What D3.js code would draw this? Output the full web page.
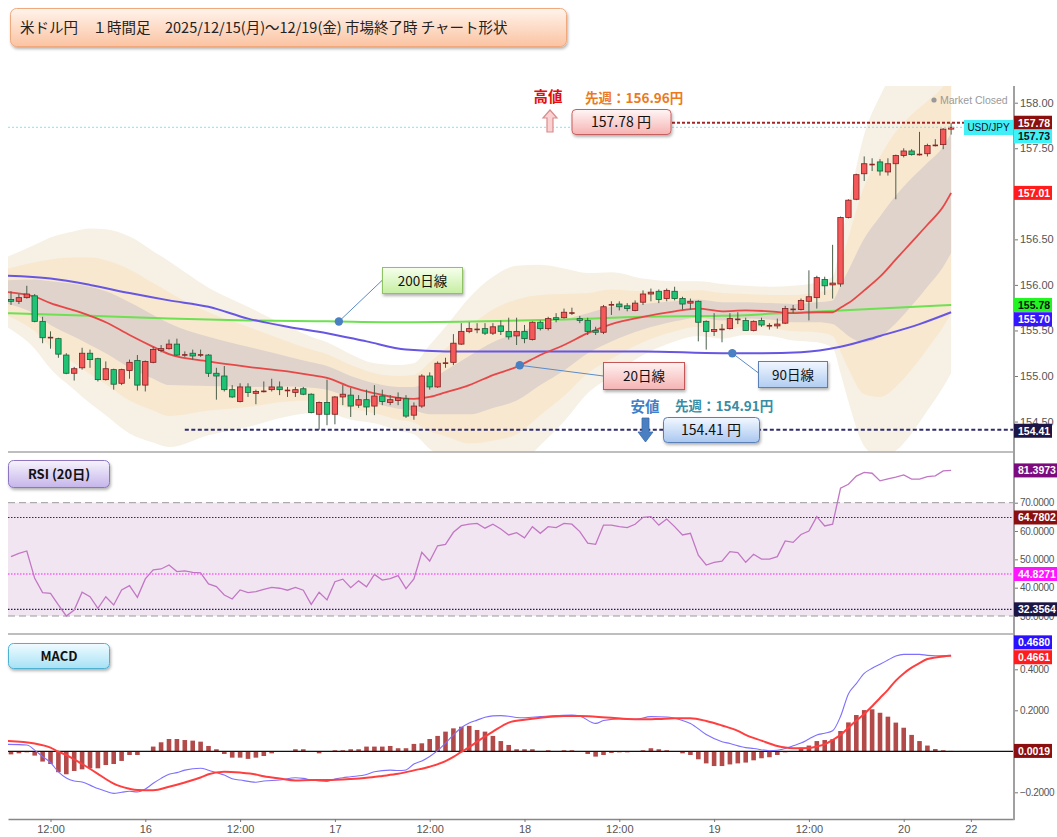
<!DOCTYPE html>
<html lang="ja">
<head>
<meta charset="UTF-8">
<title>米ドル円 1時間足 チャート</title>
<script src="https://d3js.org/d3.v7.min.js"></script>
<style>
  html, body { margin: 0; padding: 0; background: #fff; }
  svg { display: block; font-family: "Noto Sans CJK JP", "Noto Sans", sans-serif; }
  .axis .tick text { font-family: "Liberation Sans", Arial, sans-serif; font-size: 11px; fill: #555; }
  .axis.small .tick text { font-size: 10px; letter-spacing: -0.3px; }
  .axis .tick line { stroke: #777; }
  .vlabel { font-family: "Liberation Sans", Arial, sans-serif; font-size: 10.5px; font-weight: bold; }
</style>
</head>
<body>
<svg id="chart" width="1057" height="837"></svg>
<script>
// ---------- data (1時間足, index 0 = 12/15 07:00) ----------
// [open, high, low, close]
const ohlc = [
  [155.84,155.93,155.78,155.82],[155.82,155.90,155.79,155.86],[155.86,155.99,155.85,155.90],[155.88,155.90,155.59,155.60],
  [155.60,155.65,155.36,155.42],[155.43,155.49,155.30,155.42],[155.41,155.42,155.20,155.24],[155.23,155.25,155.02,155.03],
  [155.03,155.10,154.95,155.08],[155.09,155.31,155.07,155.25],[155.25,155.29,155.09,155.18],[155.19,155.20,154.94,154.96],
  [154.96,155.16,154.95,155.08],[155.07,155.08,154.85,154.91],[154.92,155.08,154.90,155.07],[155.06,155.18,154.97,155.15],
  [155.17,155.23,154.84,154.90],[154.90,155.17,154.83,155.16],[155.15,155.32,155.14,155.29],[155.28,155.34,155.26,155.30],
  [155.30,155.40,155.29,155.35],[155.35,155.41,155.22,155.23],[155.23,155.27,155.21,155.24],[155.25,155.29,155.18,155.22],
  [155.24,155.29,155.21,155.23],[155.23,155.24,154.99,155.03],[155.03,155.09,154.74,155.00],[155.00,155.11,154.83,154.85],
  [154.85,154.90,154.76,154.77],[154.72,154.92,154.71,154.88],[154.88,154.92,154.77,154.82],[154.81,154.85,154.69,154.83],
  [154.83,154.94,154.82,154.84],[154.85,154.97,154.83,154.88],[154.88,154.94,154.79,154.85],[154.85,154.88,154.77,154.84],
  [154.82,154.88,154.77,154.85],[154.86,154.88,154.79,154.80],[154.80,154.81,154.59,154.60],[154.58,154.72,154.41,154.71],
  [154.71,154.96,154.46,154.58],[154.58,154.78,154.47,154.77],[154.77,154.90,154.68,154.80],[154.79,154.87,154.55,154.67],
  [154.68,154.79,154.65,154.74],[154.74,154.85,154.57,154.66],[154.67,154.90,154.57,154.78],[154.78,154.85,154.68,154.72],
  [154.71,154.79,154.68,154.74],[154.73,154.82,154.68,154.76],[154.75,154.79,154.54,154.56],[154.57,154.71,154.52,154.67],
  [154.67,155.02,154.65,155.00],[155.00,155.04,154.85,154.88],[154.88,155.16,154.87,155.14],[155.14,155.20,155.09,155.15],
  [155.15,155.46,155.12,155.36],[155.35,155.58,155.34,155.49],[155.49,155.59,155.47,155.52],[155.51,155.58,155.47,155.52],
  [155.52,155.58,155.45,155.47],[155.47,155.58,155.45,155.54],[155.55,155.61,155.45,155.49],[155.49,155.64,155.40,155.43],
  [155.44,155.64,155.34,155.49],[155.49,155.56,155.36,155.41],[155.40,155.60,155.39,155.59],[155.59,155.61,155.50,155.52],
  [155.52,155.65,155.50,155.63],[155.64,155.69,155.59,155.62],[155.64,155.74,155.63,155.70],[155.70,155.75,155.67,155.69],
  [155.63,155.66,155.58,155.61],[155.61,155.64,155.45,155.49],[155.50,155.54,155.45,155.48],[155.48,155.78,155.46,155.76],
  [155.78,155.82,155.67,155.79],[155.79,155.82,155.72,155.76],[155.77,155.80,155.71,155.74],[155.72,155.83,155.71,155.80],
  [155.81,155.94,155.78,155.90],[155.90,155.96,155.82,155.92],[155.93,155.95,155.80,155.84],[155.85,155.96,155.82,155.94],
  [155.93,155.98,155.83,155.85],[155.85,155.87,155.73,155.79],[155.80,155.85,155.73,155.82],[155.82,155.83,155.38,155.59],
  [155.60,155.61,155.29,155.49],[155.49,155.69,155.44,155.51],[155.51,155.57,155.37,155.52],[155.52,155.69,155.51,155.63],
  [155.62,155.70,155.57,155.63],[155.61,155.64,155.50,155.50],[155.50,155.61,155.49,155.60],[155.61,155.64,155.54,155.56],
  [155.55,155.58,155.51,155.56],[155.55,155.63,155.52,155.57],[155.58,155.77,155.57,155.74],[155.73,155.78,155.69,155.74],
  [155.73,155.85,155.72,155.83],[155.82,156.16,155.61,155.87],[155.86,156.10,155.74,156.08],[156.06,156.09,155.89,155.99],
  [156.00,156.44,155.85,156.02],[156.01,156.75,155.98,156.74],[156.74,156.94,156.73,156.93],[156.94,157.22,156.93,157.21],
  [157.22,157.41,157.14,157.33],[157.33,157.39,157.25,157.33],[157.35,157.38,157.20,157.25],[157.24,157.39,157.20,157.33],
  [157.33,157.43,156.94,157.42],[157.42,157.50,157.40,157.47],[157.47,157.49,157.42,157.43],[157.43,157.68,157.42,157.44],
  [157.44,157.55,157.41,157.53],[157.53,157.60,157.52,157.54],[157.54,157.72,157.49,157.71],[157.71,157.78,157.65,157.73]
];

// 20日線 + ボリンジャー (σ) read at these candle indexes
const ma20Idx = [-0.4,3,5,8,10,12,15,18,20,25,30,35,38,40,43,46,49,51,53,55,58,61,64,67,70,73,76,80,84,87,90,93,96,99,102,104,105,106,108,110,112,114,116,118,119];
const ma20 = [155.92,155.87,155.80,155.72,155.66,155.59,155.45,155.32,155.24,155.16,155.10,155.05,155.01,154.98,154.88,154.81,154.76,154.75,154.77,154.82,154.90,155.01,155.10,155.23,155.34,155.47,155.57,155.65,155.71,155.74,155.71,155.72,155.71,155.69,155.70,155.70,155.75,155.80,155.94,156.09,156.28,156.47,156.66,156.86,157.01];
const bbSigma = [0.13,0.19,0.24,0.29,0.32,0.34,0.36,0.35,0.34,0.27,0.22,0.165,0.14,0.13,0.12,0.11,0.12,0.13,0.19,0.24,0.32,0.36,0.37,0.33,0.28,0.22,0.19,0.14,0.11,0.10,0.10,0.09,0.09,0.10,0.11,0.13,0.24,0.36,0.57,0.66,0.70,0.70,0.68,0.66,0.66];

// 90日線 / 200日線  [index, price]
const ma90 = [[-0.4,156.10],[5,156.07],[10,156.00],[15,155.91],[20,155.83],[25,155.76],[30,155.63],[35,155.54],[40,155.47],[45,155.38],[50,155.29],[55,155.27],[60,155.27],[70,155.27],[80,155.27],[90,155.25],[95,155.25],[100,155.26],[105,155.32],[110,155.44],[115,155.57],[119,155.70]];
const ma200 = [[-0.4,155.69],[10,155.66],[20,155.63],[30,155.61],[40,155.60],[50,155.59],[60,155.60],[70,155.62],[80,155.65],[90,155.66],[100,155.70],[110,155.74],[119,155.78]];

// RSI(20)
const rsi = [
  50.96,52.1,52.96,43.3,38.25,38.0,33.9,30.0,32.1,38.4,
  36.8,32.7,36.8,33.9,39.2,40.7,36.6,43.1,46.3,46.6,
  48.0,45.7,45.9,45.4,45.2,41.3,40.4,37.4,36.0,39.2,
  38.25,38.6,39.4,40.1,39.8,39.1,40.1,39.1,34.1,38.4,
  35.7,42.1,43.0,40.0,42.4,40.3,44.7,42.7,43.2,44.25,
  39.66,43.1,52.5,49.4,54.8,55.3,59.55,61.9,62.4,62.7,
  61.0,62.4,60.7,58.6,59.4,57.6,61.55,59.2,61.55,61.2,
  62.7,62.4,59.8,55.7,55.3,62.1,62.1,61.55,61.2,62.4,
  64.84,65.1,62.1,64.25,61.55,58.6,59.2,51.5,48.0,48.96,
  49.4,52.7,52.4,48.96,51.8,50.1,50.1,50.96,56.5,56.0,
  58.8,60.0,65.1,61.8,62.4,75.1,76.5,79.4,80.7,80.4,
  77.7,78.4,79.0,79.8,78.3,78.3,79.2,79.5,81.2,81.4
];
const rsiLevels = [64.7802, 44.8271, 32.3564];

// MACD
const macdHist = [
  -0.015,-0.010,-0.005,-0.021,-0.050,-0.062,-0.102,-0.112,-0.096,-0.088,
  -0.083,-0.083,-0.067,-0.062,-0.047,-0.018,-0.018,0,0.023,0.044,
  0.060,0.060,0.055,0.052,0.047,0.026,0.010,-0.013,-0.031,-0.031,
  -0.037,-0.031,-0.023,-0.010,0,0,0.010,0.010,0,-0.010,
  0,0.005,0.005,0.010,0.010,0.023,0.023,0.023,0.026,0.015,
  0.015,0.036,0.039,0.060,0.075,0.096,0.112,0.120,0.124,0.104,
  0.096,0.075,0.050,0.031,0.010,0.010,0.010,0,0.005,0,
  0.005,0.005,0,-0.013,-0.026,-0.018,-0.008,-0.005,-0.005,0,
  0.005,0.015,0.010,0.005,0,-0.010,-0.018,-0.039,-0.059,-0.072,
  -0.072,-0.064,-0.059,-0.055,-0.044,-0.034,-0.029,-0.018,-0.005,0,
  0.018,0.028,0.050,0.055,0.059,0.099,0.141,0.177,0.201,0.205,
  0.188,0.169,0.140,0.115,0.080,0.050,0.028,0.011,0.005,0.002
];
const macdLine = [[-0.4,0.034],[2,0.031],[3,0.006],[4,-0.026],[5,-0.055],[6,-0.100],[7,-0.130],[8,-0.145],[9,-0.150],[10,-0.165],[11,-0.182],[12,-0.195],[13,-0.205],[14,-0.200],[15,-0.195],[16,-0.198],[17,-0.184],[18,-0.156],[19,-0.132],[20,-0.112],[21,-0.104],[22,-0.092],[24,-0.083],[25,-0.092],[26,-0.104],[27,-0.116],[28,-0.134],[29,-0.140],[31,-0.151],[32,-0.145],[34,-0.140],[36,-0.129],[37,-0.132],[38,-0.140],[40,-0.147],[41,-0.135],[42,-0.129],[43,-0.124],[45,-0.113],[46,-0.100],[48,-0.092],[49,-0.094],[50,-0.091],[51,-0.062],[52,-0.047],[53,-0.025],[54,0.003],[55,0.040],[56,0.080],[57,0.115],[58,0.138],[59,0.152],[60,0.166],[61,0.173],[62,0.174],[63,0.171],[64,0.165],[65,0.164],[67,0.169],[69,0.174],[71,0.177],[72,0.172],[74,0.136],[75,0.150],[77,0.158],[79,0.156],[81,0.169],[83,0.167],[85,0.150],[86,0.136],[88,0.082],[90,0.047],[91,0.038],[93,0.018],[94,0.014],[96,0.003],[97,0.005],[98,0.014],[99,0.027],[100,0.040],[101,0.060],[102,0.080],[103,0.088],[104,0.100],[105,0.170],[106,0.280],[107,0.330],[108,0.380],[109,0.405],[110,0.425],[111,0.445],[112,0.465],[113,0.473],[115,0.473],[116,0.468],[117,0.466],[119,0.468]];
const macdSignal = [[-0.4,0.050],[3,0.038],[5,0.018],[6,-0.002],[7,-0.018],[8,-0.040],[9,-0.062],[11,-0.110],[12,-0.135],[13,-0.158],[15,-0.183],[16,-0.189],[18,-0.190],[20,-0.173],[22,-0.152],[24,-0.128],[25,-0.112],[27,-0.100],[29,-0.104],[31,-0.113],[32,-0.122],[34,-0.133],[36,-0.142],[38,-0.140],[40,-0.140],[43,-0.135],[45,-0.129],[47,-0.120],[49,-0.110],[51,-0.093],[53,-0.075],[55,-0.048],[56,-0.027],[57,-0.003],[58,0.020],[59,0.047],[61,0.096],[63,0.140],[65,0.154],[67,0.164],[70,0.172],[72,0.172],[74,0.169],[76,0.164],[78,0.158],[80,0.156],[82,0.158],[84,0.161],[86,0.161],[88,0.148],[90,0.126],[92,0.100],[93,0.080],[95,0.052],[97,0.026],[98,0.018],[99,0.015],[101,0.016],[102,0.024],[103,0.034],[104,0.055],[105,0.080],[106,0.115],[107,0.150],[108,0.182],[109,0.220],[110,0.260],[111,0.300],[112,0.345],[113,0.380],[114,0.408],[115,0.430],[116,0.450],[117,0.458],[118,0.463],[119,0.466]];

// axis ticks and tags (157.00 / 0.0000 sit under value tags, so they are left out)
const priceTicks = [154.5, 155.0, 155.5, 156.0, 156.5, 157.5, 158.0];
const rsiTicks = [30, 40, 50, 60, 70];
const macdTicks = [-0.2, 0.2, 0.4];
const timeTickIdx = [5, 17, 29, 41, 53, 65, 77, 89, 101, 113, 121.5];
const timeTickLabels = ["12:00","16","12:00","17","12:00","18","12:00","19","12:00","20","22"];
const priceTags = [157.78, 157.73, 157.01, 155.78, 155.70, 154.41];
const rsiTags = [81.3973, 64.7802, 44.8271, 32.3564];
const macdTags = [0.4680, 0.4661, 0.0019];
const weekHigh = 157.78, weekLow = 154.41, lastPrice = 157.73;
const prevHighText = "先週：156.96円", prevLowText = "先週：154.91円";

// ---------- scales ----------
const L = 8, R = 1014;
const x = d3.scaleLinear().domain([-0.38, 126.96]).range([L, R]);
const yP = d3.scaleLinear().domain([154, 158.5]).range([467.1, 57.15]);
const yR = d3.scaleLinear().domain([30, 70]).range([616, 502.7]);
const yM = d3.scaleLinear().domain([-0.2, 0.4]).range([792.3, 669.3]);

const svg = d3.select("#chart");
const defs = svg.append("defs");

function vGrad(id, c1, c2) {
  const g = defs.append("linearGradient").attr("id", id).attr("x1", 0).attr("y1", 0).attr("x2", 0).attr("y2", 1);
  g.append("stop").attr("offset", "0%").attr("stop-color", c1);
  g.append("stop").attr("offset", "100%").attr("stop-color", c2);
}
vGrad("gTitle", "#fff4ec", "#fbc3a2");
vGrad("gHigh", "#fff6f6", "#f6b2b2");
vGrad("gLow", "#f3f8ff", "#a9c7f0");
vGrad("g200", "#f6ffec", "#c6eea2");
vGrad("g20", "#fff2f2", "#f5b3b3");
vGrad("g90", "#f1f6ff", "#b1cdf1");
vGrad("gRsi", "#f7f3fd", "#c5b5ea");
vGrad("gMacd", "#f1fbff", "#a6e2f6");

const sh = defs.append("filter").attr("id", "shadow").attr("x", "-10%").attr("y", "-20%").attr("width", "130%").attr("height", "160%");
sh.append("feDropShadow").attr("dx", 1).attr("dy", 2).attr("stdDeviation", 1.4).attr("flood-color", "#000").attr("flood-opacity", 0.3);

function clip(id, y0, y1) {
  defs.append("clipPath").attr("id", id).append("rect").attr("x", L).attr("y", y0).attr("width", R - L).attr("height", y1 - y0);
}
clip("clipMain", 86, 452);
clip("clipRsi", 453, 634);
clip("clipMacd", 635, 819);

// linear lookup used only to pin the callout dots on a line
function valueAt(pairs, i) {
  const k = d3.bisector(d => d[0]).left(pairs, i);
  if (k <= 0) return pairs[0][1];
  if (k >= pairs.length) return pairs[pairs.length - 1][1];
  const a = pairs[k - 1], b = pairs[k], t = (i - a[0]) / (b[0] - a[0]);
  return a[1] + t * (b[1] - a[1]);
}

// ---------- title ----------
svg.append("rect").attr("x", 10.5).attr("y", 8.5).attr("width", 556).attr("height", 38).attr("rx", 6)
  .attr("fill", "url(#gTitle)").attr("stroke", "#efa97d").attr("filter", "url(#shadow)");
svg.append("text").attr("x", 20).attr("y", 33).attr("font-size", 14.5).attr("fill", "#222")
  .text("米ドル円　１時間足　2025/12/15(月)～12/19(金) 市場終了時 チャート形状");

// ---------- main price panel ----------
const gMain = svg.append("g").attr("clip-path", "url(#clipMain)");
const bb = ma20Idx.map((d, k) => ({ i: d, m: ma20[k], s: bbSigma[k] }));
const bandFill = ["#f6f1e4", "#f8e8d0", "#dfd3cb"];
[3, 2, 1].forEach((k, n) => {
  gMain.append("path").datum(bb)
    .attr("d", d3.area().x(d => x(d.i)).y0(d => yP(d.m - k * d.s)).y1(d => yP(d.m + k * d.s)).curve(d3.curveMonotoneX))
    .attr("fill", bandFill[n]);
});

// last price line
svg.append("line").attr("x1", L).attr("x2", R).attr("y1", yP(lastPrice)).attr("y2", yP(lastPrice))
  .attr("stroke", "#7fe6ee").attr("stroke-dasharray", "2,2");

const maLine = d3.line().x(d => x(d[0])).y(d => yP(d[1])).curve(d3.curveMonotoneX);
gMain.append("path").datum(ma200).attr("d", maLine).attr("fill", "none").attr("stroke", "#6ee052").attr("stroke-width", 2);
gMain.append("path").datum(ma90).attr("d", maLine).attr("fill", "none").attr("stroke", "#6656e2").attr("stroke-width", 2);
gMain.append("path").datum(bb.map(d => [d.i, d.m])).attr("d", maLine).attr("fill", "none").attr("stroke", "#e64848").attr("stroke-width", 1.8);

// candles (赤=陽線, 緑=陰線)
const cw = 5.4;
const cg = gMain.selectAll("g.candle").data(ohlc).enter().append("g").attr("class", "candle");
cg.append("line")
  .attr("x1", (d, i) => x(i)).attr("x2", (d, i) => x(i))
  .attr("y1", d => yP(d[1])).attr("y2", d => yP(d[2]))
  .attr("stroke", "#4b5f4a").attr("stroke-width", 1);
cg.append("rect")
  .attr("x", (d, i) => x(i) - cw / 2).attr("width", cw)
  .attr("y", d => yP(Math.max(d[0], d[3])))
  .attr("height", d => Math.max(1.6, Math.abs(yP(d[0]) - yP(d[3]))))
  .attr("fill", d => Math.abs(d[3] - d[0]) < 0.012 ? "#8e2222" : (d[3] > d[0] ? "#f45858" : "#1fc373"))
  .attr("stroke", d => Math.abs(d[3] - d[0]) < 0.012 ? "none" : (d[3] > d[0] ? "#7e2020" : "#1c5e3a"))
  .attr("stroke-width", 0.8);

// week high / low lines
svg.append("line").attr("x1", 672).attr("x2", R).attr("y1", yP(weekHigh)).attr("y2", yP(weekHigh))
  .attr("stroke", "#a32424").attr("stroke-width", 1.8).attr("stroke-dasharray", "3,2");
svg.append("line").attr("x1", x(22)).attr("x2", R).attr("y1", yP(weekLow)).attr("y2", yP(weekLow))
  .attr("stroke", "#2f2b6c").attr("stroke-width", 2).attr("stroke-dasharray", "4,2.5");

// market closed
svg.append("circle").attr("cx", 934).attr("cy", 100).attr("r", 2.6).attr("fill", "#999");
svg.append("text").attr("x", 940).attr("y", 104).attr("font-size", 10.5).attr("fill", "#9a9a9a")
  .attr("font-family", "'Liberation Sans', Arial, sans-serif").text("Market Closed");

// high annotation
svg.append("text").attr("x", 548).attr("y", 102).attr("text-anchor", "middle").attr("font-size", 14.5)
  .attr("font-weight", "bold").attr("fill", "#e30d0d").text("高値");
svg.append("text").attr("x", 585).attr("y", 103).attr("font-size", 13.5)
  .attr("font-weight", "bold").attr("fill", "#ec7a1c").text(prevHighText);
svg.append("path").attr("d", "M550,110 L557,118 L553,118 L553,132 L547,132 L547,118 L543,118 Z")
  .attr("fill", "#fbd2d2").attr("stroke", "#d98c8c").attr("stroke-width", 1.2);
svg.append("rect").attr("x", 572).attr("y", 109.5).attr("width", 99).attr("height", 25).attr("rx", 4)
  .attr("fill", "url(#gHigh)").attr("stroke", "#c65f5f").attr("filter", "url(#shadow)");
svg.append("text").attr("x", 621).attr("y", 127).attr("text-anchor", "middle").attr("font-size", 14).attr("fill", "#111")
  .text(d3.format(".2f")(weekHigh) + " 円");

// low annotation
svg.append("text").attr("x", 645).attr("y", 412).attr("text-anchor", "middle").attr("font-size", 14.5)
  .attr("font-weight", "bold").attr("fill", "#3f7fc9").text("安値");
svg.append("text").attr("x", 675).attr("y", 411).attr("font-size", 13.5)
  .attr("font-weight", "bold").attr("fill", "#3a8ca3").text(prevLowText);
svg.append("path").attr("d", "M642,418 L649,418 L649,432 L653,432 L645.5,442 L638,432 L642,432 Z")
  .attr("fill", "#4a80c2").attr("stroke", "#3a6aa8").attr("stroke-width", 0.8);
svg.append("rect").attr("x", 663.5).attr("y", 417.5).attr("width", 96).attr("height", 25).attr("rx", 4)
  .attr("fill", "url(#gLow)").attr("stroke", "#5a80b6").attr("filter", "url(#shadow)");
svg.append("text").attr("x", 711).attr("y", 435).attr("text-anchor", "middle").attr("font-size", 14).attr("fill", "#111")
  .text(d3.format(".2f")(weekLow) + " 円");

// MA callouts
function callout(dotX, dotY, bx, by, bw, bh, ax, ay, fill, stroke, label) {
  svg.append("line").attr("x1", dotX).attr("y1", dotY).attr("x2", ax).attr("y2", ay).attr("stroke", "#5b8bc9").attr("stroke-width", 1);
  svg.append("circle").attr("cx", dotX).attr("cy", dotY).attr("r", 4.2).attr("fill", "#4a7fc1");
  svg.append("rect").attr("x", bx).attr("y", by).attr("width", bw).attr("height", bh)
    .attr("fill", fill).attr("stroke", stroke).attr("filter", "url(#shadow)");
  svg.append("text").attr("x", bx + bw / 2).attr("y", by + bh / 2 + 5).attr("text-anchor", "middle")
    .attr("font-size", 13.5).attr("fill", "#111").text(label);
}
callout(x(41.5), yP(valueAt(ma200, 41.5)), 382.5, 267.5, 80, 26, 382.5, 280, "url(#g200)", "#8fc265", "200日線");
callout(x(64.4), yP(valueAt(bb.map(d => [d.i, d.m]), 64.4)), 603.5, 362.5, 81, 27, 603.5, 376, "url(#g20)", "#c65656", "20日線");
callout(x(91.3), yP(valueAt(ma90, 91.3)), 758.5, 361.5, 69, 26, 758.5, 373, "url(#g90)", "#5a80b6", "90日線");

// ---------- RSI panel ----------
const gRsi = svg.append("g").attr("clip-path", "url(#clipRsi)");
gRsi.append("rect").attr("x", L).attr("width", R - L).attr("y", yR(70)).attr("height", yR(30) - yR(70)).attr("fill", "#f2e5f2");
[70, 30].forEach(v => gRsi.append("line").attr("x1", L).attr("x2", R).attr("y1", yR(v)).attr("y2", yR(v))
  .attr("stroke", "#9a9a9a").attr("stroke-dasharray", "7,4"));
const lvlColor = ["#8d0a0a", "#ff1aff", "#241a5c"];
rsiLevels.forEach((v, k) => gRsi.append("line").attr("x1", L).attr("x2", R).attr("y1", yR(v)).attr("y2", yR(v))
  .attr("stroke", lvlColor[k]).attr("stroke-width", 1.2).attr("stroke-dasharray", "1.5,1.5"));
gRsi.append("path").datum(rsi)
  .attr("d", d3.line().x((d, i) => x(i)).y(d => yR(d)))
  .attr("fill", "none").attr("stroke", "#c277c4").attr("stroke-width", 1.3);

svg.append("rect").attr("x", 8.5).attr("y", 460.5).attr("width", 101).attr("height", 27).attr("rx", 5)
  .attr("fill", "url(#gRsi)").attr("stroke", "#8c76c2").attr("filter", "url(#shadow)");
svg.append("text").attr("x", 59).attr("y", 479).attr("text-anchor", "middle").attr("font-size", 13)
  .attr("font-weight", "bold").attr("fill", "#111").text("RSI (20日)");

// ---------- MACD panel ----------
const gMacd = svg.append("g").attr("clip-path", "url(#clipMacd)");
gMacd.selectAll("rect.hist").data(macdHist).enter().append("rect").attr("class", "hist")
  .attr("x", (d, i) => x(i) - 2.3).attr("width", 4.6)
  .attr("y", d => Math.min(yM(d), yM(0))).attr("height", d => Math.abs(yM(d) - yM(0)))
  .attr("fill", "#b34a4a");
gMacd.append("line").attr("x1", L).attr("x2", R).attr("y1", yM(0)).attr("y2", yM(0)).attr("stroke", "#111").attr("stroke-width", 1.2);
const mLine = d3.line().x(d => x(d[0])).y(d => yM(d[1])).curve(d3.curveMonotoneX);
gMacd.append("path").datum(macdLine).attr("d", mLine).attr("fill", "none").attr("stroke", "#7d70ff").attr("stroke-width", 1.1);
gMacd.append("path").datum(macdSignal).attr("d", mLine).attr("fill", "none").attr("stroke", "#ff3f3f").attr("stroke-width", 2);

svg.append("rect").attr("x", 8.5).attr("y", 643.5).attr("width", 101).attr("height", 25).attr("rx", 5)
  .attr("fill", "url(#gMacd)").attr("stroke", "#4fb1d2").attr("filter", "url(#shadow)");
svg.append("text").attr("x", 59).attr("y", 661).attr("text-anchor", "middle").attr("font-size", 13)
  .attr("font-weight", "bold").attr("fill", "#111").text("MACD");

// ---------- frame & axes ----------
[452, 634].forEach(yy => svg.append("line").attr("x1", L).attr("x2", R).attr("y1", yy).attr("y2", yy)
  .attr("stroke", "#a8a8a8").attr("stroke-width", 1.5));

function rightAxis(scale, ticks, fmt, cls) {
  svg.append("g").attr("class", "axis " + cls).attr("transform", `translate(${R},0)`)
    .call(d3.axisRight(scale).tickValues(ticks).tickFormat(d3.format(fmt)).tickSize(4).tickPadding(2))
    .call(g => g.select(".domain").remove());
}
rightAxis(yP, priceTicks, ".2f", "");
rightAxis(yR, rsiTicks, ".4f", "small");
rightAxis(yM, macdTicks, ".4f", "small");

svg.append("g").attr("class", "axis").attr("transform", "translate(0,819)")
  .call(d3.axisBottom(x).tickValues(timeTickIdx).tickFormat((d, k) => timeTickLabels[k]).tickSize(3).tickSizeOuter(0))
  .call(g => g.select(".domain").attr("stroke", "#888").attr("stroke-width", 1.5));

svg.append("line").attr("x1", R).attr("x2", R).attr("y1", 86).attr("y2", 820).attr("stroke", "#a0a0a0").attr("stroke-width", 2);

// value tags on the right axis
function tag(yy, txt, bg, fg, w) {
  svg.append("rect").attr("x", R).attr("y", yy - 7).attr("width", w).attr("height", 14).attr("fill", bg);
  svg.append("text").attr("class", "vlabel").attr("x", R + 4).attr("y", yy + 4).attr("fill", fg).text(txt);
}
const priceTagBg = ["#8b0f0f", "#3ff2f8", "#ff1c1c", "#22f522", "#3514ff", "#1d1544"];
const priceTagFg = ["#fff", "#111", "#fff", "#111", "#fff", "#fff"];
const priceTagShift = [0, 9, 0, 0, 7, 1];
priceTags.forEach((v, k) => tag(yP(v) + priceTagShift[k], d3.format(".2f")(v), priceTagBg[k], priceTagFg[k], 38));

svg.append("rect").attr("x", 964).attr("y", 120).attr("width", 49).attr("height", 15).attr("fill", "#41eff7");
svg.append("text").attr("x", 988.5).attr("y", 131).attr("text-anchor", "middle").attr("font-size", 10)
  .attr("font-family", "'Liberation Sans', Arial, sans-serif").attr("fill", "#112").text("USD/JPY");

const rsiTagBg = ["#7d0a7d", "#8b0f0f", "#ff14ff", "#1d1544"];
rsiTags.forEach((v, k) => tag(yR(v), d3.format(".4f")(v), rsiTagBg[k], "#fff", 43));

const macdTagBg = ["#2a10ff", "#ff1c1c", "#8b0f0f"];
const macdTagShift = [-13, 1.5, 0];
macdTags.forEach((v, k) => tag(yM(v) + macdTagShift[k], d3.format(".4f")(v), macdTagBg[k], "#fff", 38));
</script>
</body>
</html>
